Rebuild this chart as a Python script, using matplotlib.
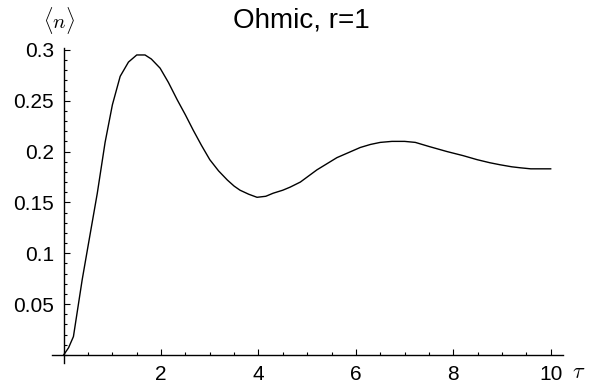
import matplotlib
matplotlib.use("Agg")
import matplotlib.pyplot as plt
from matplotlib.ticker import MultipleLocator, FixedLocator
import numpy as np

plt.rcParams['font.family'] = ['Liberation Sans', 'DejaVu Sans']
plt.rcParams['mathtext.fontset'] = 'cm'

# curve
tau = [0.0, 0.1, 0.2, 0.38, 0.5, 0.69, 0.85, 1.0, 1.16, 1.33, 1.5, 1.67, 1.8, 1.98,
       2.15, 2.33, 2.5, 2.66, 2.83, 3.0, 3.18, 3.36, 3.5, 3.62, 3.8, 3.97, 4.15, 4.3,
       4.5, 4.65, 4.86, 5.2, 5.61, 5.85, 6.09, 6.3, 6.5, 6.74, 7.0, 7.22, 7.5, 7.87,
       8.2, 8.49, 8.75, 8.96, 9.2, 9.38, 9.59, 9.8, 10.0]
n_avg = [0.0, 0.007, 0.018, 0.074, 0.107, 0.159, 0.209, 0.246, 0.274, 0.288, 0.295,
         0.295, 0.291, 0.282, 0.268, 0.251, 0.236, 0.221, 0.206, 0.192, 0.181, 0.172,
         0.166, 0.162, 0.158, 0.155, 0.156, 0.159, 0.162, 0.165, 0.170, 0.182, 0.194,
         0.199, 0.204, 0.207, 0.209, 0.210, 0.210, 0.209, 0.205, 0.200, 0.196, 0.192,
         0.189, 0.187, 0.185, 0.184, 0.183, 0.183, 0.183]

x_major = [2, 4, 6, 8, 10]
y_major = [0.05, 0.1, 0.15, 0.2, 0.25, 0.3]
y_labels = ['0.05', '0.1', '0.15', '0.2', '0.25', '0.3']

fig = plt.figure(figsize=(5.95, 3.89), dpi=100)
ax = fig.add_axes([0.0874, 0.0668, 0.8586, 0.8102])

ax.plot(tau, n_avg, color='black', linewidth=1.0)

ax.set_xlim(-0.24, 10.25)
ax.set_ylim(-0.008, 0.302)

# axes through the origin, mathematica style
ax.spines['left'].set_position(('data', 0))
ax.spines['bottom'].set_position(('data', 0))
ax.spines['right'].set_visible(False)
ax.spines['top'].set_visible(False)
for s in ['left', 'bottom']:
    ax.spines[s].set_linewidth(1.0)

ax.xaxis.set_major_locator(FixedLocator(x_major))
ax.xaxis.set_minor_locator(MultipleLocator(0.5))
ax.set_yticks(y_major)
ax.set_yticklabels(y_labels)
ax.yaxis.set_minor_locator(MultipleLocator(0.01))

ax.tick_params(which='both', direction='in', labelsize=15, width=0.8)
ax.tick_params(which='major', length=4)
ax.tick_params(which='minor', length=2)
ax.tick_params(axis='x', pad=7)
ax.tick_params(axis='y', pad=7)

fig.text(0.507, 0.948, 'Ohmic, r=1', ha='center', va='center', fontsize=20)
fig.text(0.1, 0.948, r'$\langle n\rangle$', ha='center', va='center', fontsize=15)
fig.text(0.972, 0.043, r'$\tau$', ha='center', va='center', fontsize=16)

fig.savefig('out.png', dpi=100)
